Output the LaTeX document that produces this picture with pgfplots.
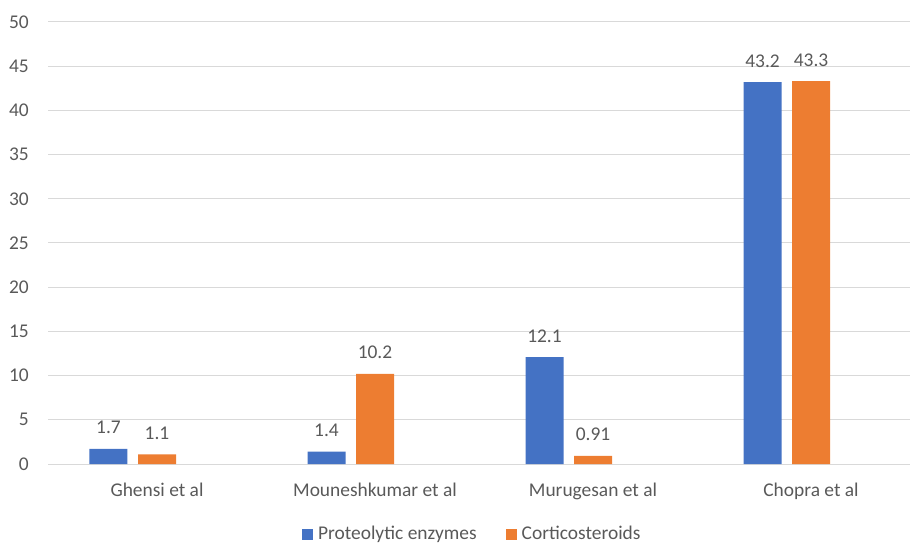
\documentclass[border=0pt]{standalone}
\usepackage{fontspec}
\setmainfont{Carlito}
\usepackage{pgfplots}
\pgfplotsset{compat=1.18}
\definecolor{cblue}{HTML}{4472C4}
\definecolor{corange}{HTML}{ED7D31}
\definecolor{gridc}{HTML}{D9D9D9}
\definecolor{txt}{HTML}{595959}
\newcommand{\cf}{\fontsize{19.5}{23}\selectfont}
\begin{document}
\begin{tikzpicture}
\path[use as bounding box] (0,0) rectangle (910bp,544bp);
\begin{axis}[
  at={(48bp,80bp)}, anchor=south west,
  scale only axis, width=862bp, height=442bp,
  xmin=-0.5, xmax=3.454, ymin=0, ymax=50,
  axis line style={draw=none},
  ytick={0,5,...,50}, ymajorgrids,
  grid style={gridc, line width=1bp},
  xtick={0,1,2,3},
  xticklabels={Ghensi et al, Mouneshkumar et al, Murugesan et al, Chopra et al},
  major tick length=0pt,
  tick label style={font=\cf, text=txt},
  /pgf/number format/assume math mode=true,
  yticklabel style={anchor=east, inner sep=0pt, xshift=-19bp},
  xticklabel style={anchor=base, inner sep=0pt, yshift=-32bp},
  ybar, bar width=0.1743,
  nodes near coords, point meta=explicit symbolic,
  every node near coord/.append style={font=\cf, text=txt, anchor=base, inner sep=0pt, yshift=15bp},
  legend columns=2,
  legend image code/.code={\fill[#1] (0bp,0bp) rectangle (11bp,10.5bp);},
  legend style={draw=none, fill=none, inner sep=0pt, outer sep=0pt,
    at={(axis description cs:0.2947,-0.1750)}, anchor=south west,
    font=\cf, text=txt,
    nodes={inner sep=0pt, anchor=base west},
    /tikz/every odd column/.append style={column sep=5bp},
    /tikz/every even column/.append style={column sep=29bp}},
  clip=false,
]
\addplot[fill=cblue, draw=none, bar shift=-0.2225] coordinates {
  (0,1.7) [1.7] (1,1.4) [1.4] (2,12.1) [12.1] (3,43.2) [43.2]};
\addlegendentry{Proteolytic enzymes}
\addplot[fill=corange, draw=none, bar shift=0] coordinates {
  (0,1.1) [1.1] (1,10.2) [10.2] (2,0.91) [0.91] (3,43.3) [43.3]};
\addlegendentry{Corticosteroids}
\end{axis}
\end{tikzpicture}
\end{document}
